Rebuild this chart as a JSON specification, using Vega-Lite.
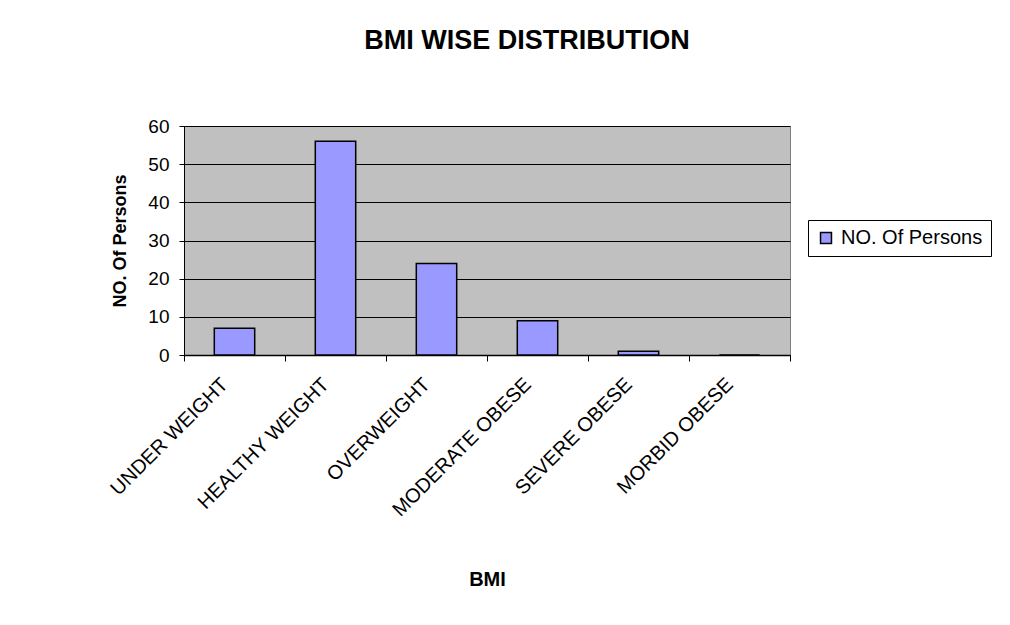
{
  "$schema": "https://vega.github.io/schema/vega-lite/v6.json",
  "width": 606,
  "height": 229,
  "autosize": {"type": "none"},
  "padding": {"left": 184, "top": 126, "right": 220, "bottom": 270},
  "background": "white",
  "title": {
    "text": "BMI WISE DISTRIBUTION",
    "font": "Liberation Sans",
    "fontSize": 27,
    "fontWeight": "bold",
    "color": "black",
    "anchor": "middle",
    "dx": 40,
    "offset": 62
  },
  "data": {
    "values": [
      {"BMI": "UNDER WEIGHT", "count": 7, "series": "NO. Of Persons"},
      {"BMI": "HEALTHY WEIGHT", "count": 56, "series": "NO. Of Persons"},
      {"BMI": "OVERWEIGHT", "count": 24, "series": "NO. Of Persons"},
      {"BMI": "MODERATE OBESE", "count": 9, "series": "NO. Of Persons"},
      {"BMI": "SEVERE OBESE", "count": 1, "series": "NO. Of Persons"},
      {"BMI": "MORBID OBESE", "count": 0, "series": "NO. Of Persons"}
    ]
  },
  "mark": {"type": "bar", "stroke": "black", "strokeWidth": 1.5, "width": {"band": 0.4}},
  "encoding": {
    "x": {
      "field": "BMI",
      "type": "nominal",
      "sort": null,
      "scale": {"paddingInner": 0, "paddingOuter": 0},
      "axis": {
        "title": "BMI",
        "titleFont": "Liberation Sans",
        "titleFontSize": 20,
        "titleFontWeight": "bold",
        "titleColor": "black",
        "titlePadding": 50,
        "labelFont": "Liberation Sans",
        "labelFontSize": 20,
        "labelColor": "black",
        "labelAngle": -45,
        "labelAlign": "right",
        "labelBaseline": "middle",
        "labelPadding": 20,
        "labelOffset": -10,
        "labelLimit": 0,
        "tickBand": "extent",
        "tickSize": 6,
        "tickColor": "black",
        "tickWidth": 1,
        "domainColor": "black",
        "domainWidth": 1.5,
        "grid": false
      }
    },
    "y": {
      "field": "count",
      "type": "quantitative",
      "scale": {"domain": [0, 60], "nice": false},
      "axis": {
        "title": "NO. Of Persons",
        "values": [0, 10, 20, 30, 40, 50, 60],
        "titleFont": "Liberation Sans",
        "titleFontSize": 18,
        "titleFontWeight": "bold",
        "titleColor": "black",
        "titlePadding": 18,
        "labelFont": "Liberation Sans",
        "labelFontSize": 19,
        "labelColor": "black",
        "labelPadding": 10,
        "tickSize": 5,
        "tickColor": "black",
        "domainColor": "black",
        "grid": true,
        "gridColor": "black",
        "gridWidth": 1
      }
    },
    "fill": {
      "field": "series",
      "type": "nominal",
      "scale": {"range": ["#9999FF"]},
      "legend": {
        "title": null,
        "orient": "none",
        "legendX": 624,
        "legendY": 94,
        "symbolType": "square",
        "symbolSize": 120,
        "symbolStrokeColor": "black",
        "symbolStrokeWidth": 1.5,
        "labelFont": "Liberation Sans",
        "labelFontSize": 20,
        "labelColor": "black",
        "strokeColor": "black",
        "padding": 8,
        "labelOffset": 5
      }
    }
  },
  "config": {
    "view": {"fill": "#C0C0C0", "stroke": "#808080", "strokeWidth": 1}
  }
}
